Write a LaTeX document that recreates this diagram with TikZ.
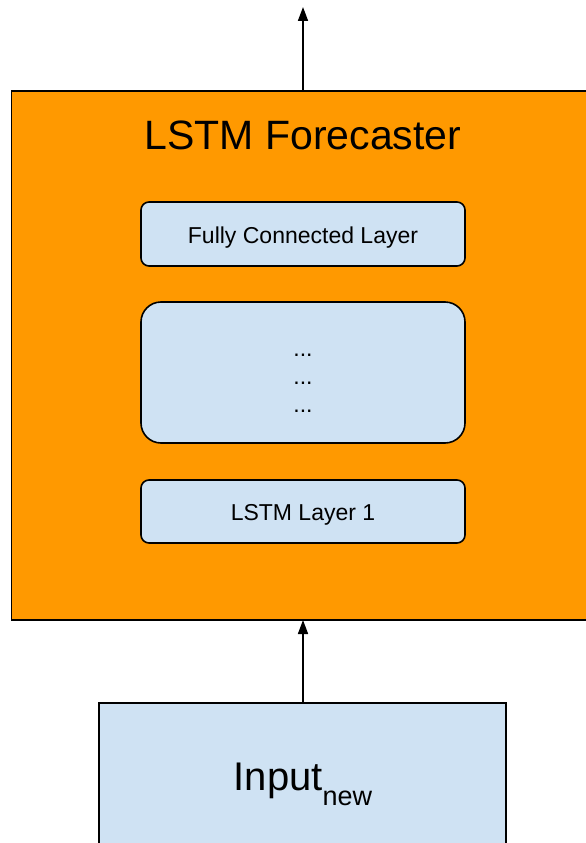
\documentclass[tikz,border=0pt]{standalone}
\usepackage{fontspec}
\setmainfont{Liberation Sans}
\usetikzlibrary{arrows.meta}
\definecolor{forecastorange}{HTML}{FF9900}
\definecolor{layerblue}{HTML}{CFE2F3}
\begin{document}
\begin{tikzpicture}[x=1pt,y=-1pt,
  layerbox/.style={draw=black, line width=1.6pt, fill=layerblue, rounded corners=8pt},
  flow/.style={draw=black, line width=1.6pt, -{Triangle[length=14pt,width=10pt]}}]
\useasboundingbox (0,0) rectangle (586,843);
\begin{scope}
\clip (0,0) rectangle (586,843);
% outer forecaster block
\draw[line width=1.8pt, fill=forecastorange] (11.5,91) rectangle (600,620);
\node[font=\fontsize{41}{41}\selectfont, anchor=base] (title) at (303,149) {LSTM Forecaster};
% stacked layers
\draw[layerbox] (141,202) rectangle (465,266);
\node[font=\fontsize{23}{23}\selectfont, anchor=base] (fc) at (303,243) {Fully Connected Layer};
\draw[layerbox, rounded corners=20pt] (141,302) rectangle (465,443);
\node[font=\fontsize{23}{23}\selectfont, anchor=base] (d1) at (303,356) {...};
\node[font=\fontsize{23}{23}\selectfont, anchor=base] (d2) at (303,384) {...};
\node[font=\fontsize{23}{23}\selectfont, anchor=base] (d3) at (303,412) {...};
\draw[layerbox] (141,480) rectangle (465,543);
\node[font=\fontsize{23}{23}\selectfont, anchor=base] (l1) at (303,520) {LSTM Layer 1};
% input block
\draw[line width=1.6pt, fill=layerblue] (99,703) rectangle (506,860);
\node[font=\fontsize{40}{40}\selectfont, anchor=base] (inp) at (303,790)
  {Input\raisebox{-15pt}{\fontsize{27}{27}\selectfont new}};
% connectors
\coordinate (inTop) at (303,703);
\coordinate (boxBottom) at (303,620);
\coordinate (boxTop) at (303,91);
\coordinate (outTip) at (303,7);
\draw[flow] (inTop) -- (boxBottom);
\draw[flow] (boxTop) -- (outTip);
\end{scope}
\end{tikzpicture}
\end{document}
